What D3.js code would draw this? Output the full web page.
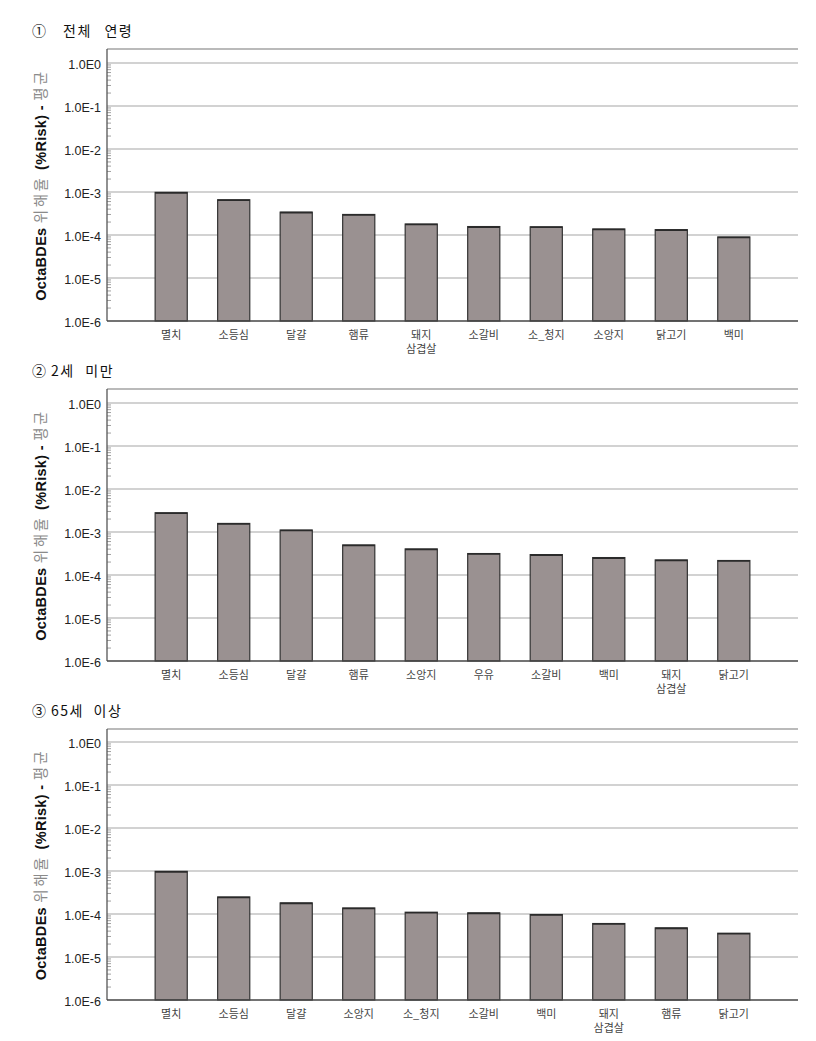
<!DOCTYPE html>
<html><head><meta charset="utf-8">
<script src="https://cdn.jsdelivr.net/npm/d3@7"></script>
<style>
body{margin:0;background:#fff;}
svg{display:block;}
</style></head>
<body>
<svg id="chart" width="816" height="1041"></svg>
<script>
// ---- data ----
const titleMarks = ["①", "②", "③"];
const titles = ["전체 연령", "2세 미만", "65세 이상"];
const categories1 = ["멸치","소등심","달걀","햄류","돼지\n삼겹살","소갈비","소_청지","소앙지","닭고기","백미"];
const values1 = [9.8e-4, 6.6e-4, 3.4e-4, 3.0e-4, 1.8e-4, 1.57e-4, 1.55e-4, 1.38e-4, 1.33e-4, 9.0e-5];
const categories2 = ["멸치","소등심","달걀","햄류","소앙지","우유","소갈비","백미","돼지\n삼겹살","닭고기"];
const values2 = [2.8e-3, 1.58e-3, 1.11e-3, 5.0e-4, 4.04e-4, 3.15e-4, 2.98e-4, 2.54e-4, 2.24e-4, 2.17e-4];
const categories3 = ["멸치","소등심","달걀","소앙지","소_청지","소갈비","백미","돼지\n삼겹살","햄류","닭고기"];
const values3 = [9.8e-4, 2.49e-4, 1.81e-4, 1.38e-4, 1.1e-4, 1.06e-4, 9.7e-5, 6.0e-5, 4.75e-5, 3.57e-5];
const yTickValues = [1, 1e-1, 1e-2, 1e-3, 1e-4, 1e-5, 1e-6];
const yTickLabels = ["1.0E0","1.0E-1","1.0E-2","1.0E-3","1.0E-4","1.0E-5","1.0E-6"];
const yTitleParts = [
  {t:"OctaBDEs ", bold:true},
  {t:"위해율 ", bold:false},
  {t:"(%Risk) - ", bold:true},
  {t:"평균", bold:false}
];

// ---- layout ----
const panels = [
  {mark:titleMarks[0], title:titles[0], cats:categories1, vals:values1, top:49, y0:63, y6:321, tx:63, ws:8},
  {mark:titleMarks[1], title:titles[1], cats:categories2, vals:values2, top:389, y0:403, y6:661, tx:51, ws:6},
  {mark:titleMarks[2], title:titles[2], cats:categories3, vals:values3, top:729, y0:742, y6:1000, tx:51, ws:5}
];
const left = 107, right = 798;
const svg = d3.select("#chart");

panels.forEach(p => {
  const g = svg.append("g");
  const y = d3.scaleLog().domain([1e-6, 1]).range([p.y6, p.y0]);
  const x = d3.scaleBand().domain(p.cats).range([left, right])
    .paddingInner(0.486).paddingOuter(0.77);

  // title
  g.append("text").attr("x", 32).attr("y", p.top - 13)
    .attr("font-family", "'Noto Sans CJK KR', sans-serif")
    .attr("font-size", 14).attr("fill", "#111")
    .text(p.mark);
  g.append("text").attr("x", p.tx).attr("y", p.top - 13)
    .attr("font-family", "'Noto Sans CJK KR', sans-serif")
    .attr("font-size", 14).attr("fill", "#111")
    .attr("letter-spacing", 1.5).attr("word-spacing", p.ws)
    .attr("xml:space","preserve")
    .text(p.title);

  // gridlines
  g.selectAll("line.grid").data(yTickValues.slice(0, 6)).join("line")
    .attr("x1", left).attr("x2", right)
    .attr("y1", d => y(d)).attr("y2", d => y(d))
    .attr("stroke", "#d2d2d2").attr("stroke-width", 2);

  // top border
  g.append("line").attr("x1", left).attr("x2", right)
    .attr("y1", p.top).attr("y2", p.top)
    .attr("stroke", "#777").attr("stroke-width", 1.2);

  // bars
  g.selectAll("rect.bar").data(p.vals).join("rect")
    .attr("x", (d, i) => x(p.cats[i]))
    .attr("width", x.bandwidth())
    .attr("y", d => y(d))
    .attr("height", d => y(1e-6) - y(d))
    .attr("fill", "#9a9191")
    .attr("stroke", "#333").attr("stroke-width", 1.2);
  // darker top edge
  g.selectAll("line.bartop").data(p.vals).join("line")
    .attr("x1", (d, i) => x(p.cats[i]))
    .attr("x2", (d, i) => x(p.cats[i]) + x.bandwidth())
    .attr("y1", d => y(d) + 0.5).attr("y2", d => y(d) + 0.5)
    .attr("stroke", "#2a2a2a").attr("stroke-width", 1.6);

  // minor ticks (inside)
  const minors = [];
  for (let e = -6; e < 0; e++) for (let k = 2; k <= 9; k++) minors.push(k * Math.pow(10, e));
  g.selectAll("line.minor").data(minors).join("line")
    .attr("x1", left).attr("x2", left + 4)
    .attr("y1", d => y(d)).attr("y2", d => y(d))
    .attr("stroke", "#888").attr("stroke-width", 0.8);

  // y axis labels via axis
  const yAxis = d3.axisLeft(y).tickValues(yTickValues)
    .tickFormat((d, i) => yTickLabels[i]).tickSize(0).tickPadding(6);
  const ya = g.append("g").attr("transform", `translate(${left},0)`).call(yAxis);
  ya.select(".domain").remove();
  ya.selectAll("text")
    .attr("font-family", "'Liberation Sans', Arial, sans-serif")
    .attr("font-size", 12.5).attr("fill", "#222").attr("dy", "0.45em");

  // left axis line
  g.append("line").attr("x1", left).attr("x2", left)
    .attr("y1", p.top).attr("y2", p.y6)
    .attr("stroke", "#555").attr("stroke-width", 1.3);

  // bottom axis line
  g.append("line").attr("x1", left).attr("x2", right)
    .attr("y1", p.y6).attr("y2", p.y6)
    .attr("stroke", "#444").attr("stroke-width", 1.6);

  // x axis labels
  const xAxis = d3.axisBottom(x).tickSize(0).tickFormat("");
  const xa = g.append("g").attr("transform", `translate(0,${p.y6})`).call(xAxis);
  xa.select(".domain").remove();
  xa.selectAll(".tick").each(function(d) {
    const lines = d.split("\n");
    lines.forEach((ln, j) => {
      d3.select(this).append("text")
        .attr("font-family", "'Noto Sans CJK KR', sans-serif")
        .attr("font-size", 11).attr("fill", "#444").attr("text-anchor", "middle")
        .attr("x", 0).attr("y", 18 + j * 14).text(ln);
    });
  });

  // y axis title
  const cy = (p.top + p.y6) / 2;
  const yt = g.append("text")
    .attr("transform", `translate(46,${cy}) rotate(-90)`)
    .attr("text-anchor", "middle")
    .attr("font-family", "'Liberation Sans', Arial, sans-serif")
    .attr("font-size", 14.5)
    .attr("xml:space","preserve");
  yTitleParts.forEach(pt => {
    yt.append("tspan").text(pt.t)
      .attr("font-weight", pt.bold ? "bold" : "normal")
      .attr("fill", pt.bold ? "#111" : "#8a8a8a")
      .attr("letter-spacing", pt.bold ? 0.3 : 2.5)
      .attr("font-family", pt.bold ? "'Liberation Sans', Arial, sans-serif" : "'Noto Sans CJK KR', sans-serif");
  });
});
</script>
</body></html>
